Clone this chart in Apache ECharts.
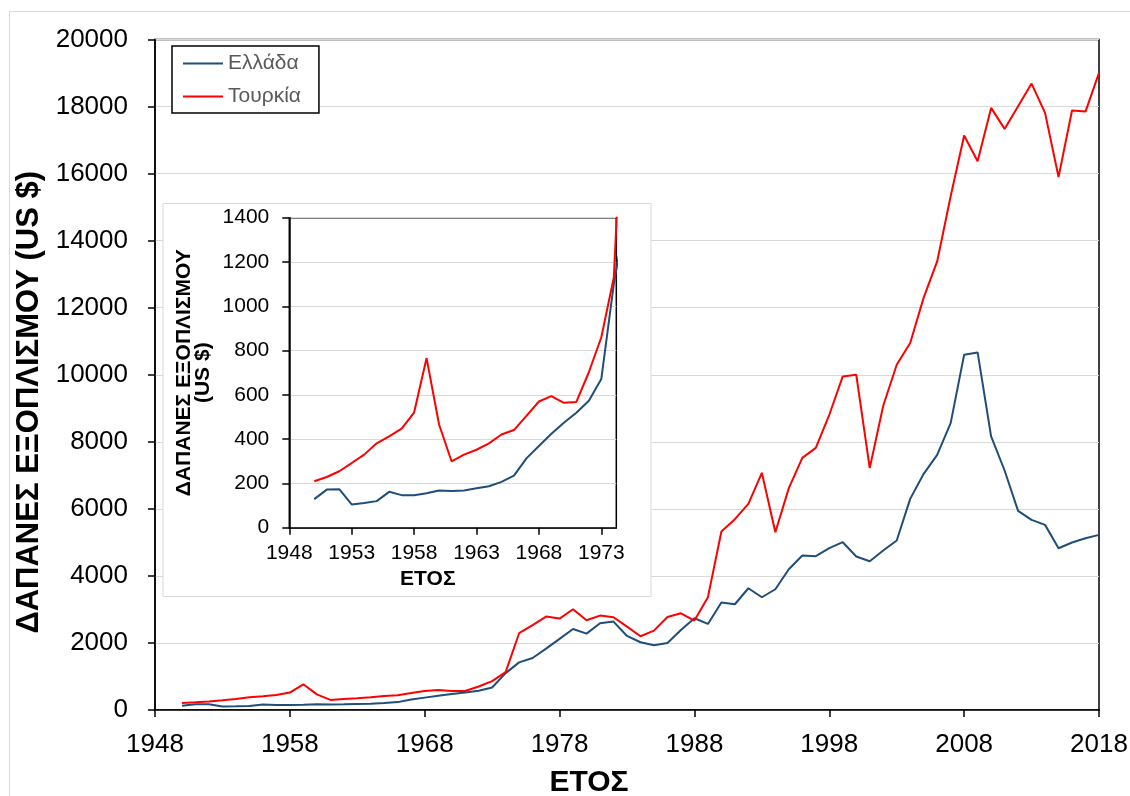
<!DOCTYPE html>
<html>
<head>
<meta charset="utf-8">
<script src="https://cdn.jsdelivr.net/npm/echarts@6/dist/echarts.min.js"></script>
<style>
html,body{margin:0;padding:0;background:#fff;}
#chart{width:1130px;height:796px;}
</style>
</head>
<body>
<div id="chart"></div>
<script>
// ---- data ----
const years = [1950,1951,1952,1953,1954,1955,1956,1957,1958,1959,
  1960,1961,1962,1963,1964,1965,1966,1967,1968,1969,
  1970,1971,1972,1973,1974,1975,1976,1977,1978,1979,
  1980,1981,1982,1983,1984,1985,1986,1987,1988,1989,
  1990,1991,1992,1993,1994,1995,1996,1997,1998,1999,
  2000,2001,2002,2003,2004,2005,2006,2007,2008,2009,
  2010,2011,2012,2013,2014,2015,2016,2017,2018];
const greece = [129,172,174,105,112,120,162,147,147,156,
  168,166,168,178,187,207,235,313,369,424,
  474,519,573,672,1100,1420,1550,1830,2120,2418,
  2278,2587,2637,2209,2020,1930,2000,2388,2736,2567,
  3204,3154,3632,3363,3602,4199,4607,4587,4826,5005,
  4577,4438,4756,5055,6298,7045,7612,8557,10597,10666,
  8159,7144,5940,5672,5522,4826,4995,5125,5224];
const turkey = [210,229,255,292,330,381,412,447,520,766,
  466,300,330,352,381,421,441,505,570,594,
  564,568,702,860,1130,2290,2530,2786,2726,3005,
  2677,2816,2766,2488,2199,2368,2776,2885,2667,3363,
  5323,5691,6149,7075,5303,6617,7520,7820,8806,9950,
  10000,7214,9074,10298,10945,12300,13380,15323,17134,16368,
  17960,17333,18010,18686,17811,15900,17880,17850,19005];
const seriesNames = ['Ελλάδα', 'Τουρκία'];
const seriesColors = ['#1F4E79', '#FF0000'];
const insetXTicks = [1948, 1953, 1958, 1963, 1968, 1973];
const yTitle = 'ΔΑΠΑΝΕΣ ΕΞΟΠΛΙΣΜΟΥ (US $)';
const yTitleInset = 'ΔΑΠΑΝΕΣ ΕΞΟΠΛΙΣΜΟΥ\n(US $)';
const xTitle = 'ΕΤΟΣ';

// ---- chart ----
const FONT = '"Liberation Sans", Arial, sans-serif';
const pairs = arr => years.map((y, i) => [y, arr[i]]);
const values = [greece, turkey];
const plain = v => String(v);

const chart = echarts.init(document.getElementById('chart'), null, {renderer: 'canvas'});

function axisCommon(fontSize, margin, z) {
  return {
    axisLine: {show: true, onZero: false, lineStyle: {color: '#000', width: 1.5}},
    axisTick: {show: true, inside: false, length: 7, lineStyle: {color: '#000', width: 1.5}},
    axisLabel: {color: '#000', fontSize: fontSize, fontFamily: FONT, margin: margin, formatter: plain},
    z: z
  };
}

const series = [];
[0, 1].forEach(g => {
  seriesNames.forEach((name, i) => {
    series.push({
      type: 'line',
      name: name,
      xAxisIndex: g,
      yAxisIndex: g,
      data: pairs(values[i]),
      symbol: 'none',
      showSymbol: false,
      clip: true,
      lineStyle: {color: seriesColors[i], width: 2},
      itemStyle: {color: seriesColors[i]},
      z: g === 0 ? 2 : 22
    });
  });
});

const option = {
  animation: false,
  backgroundColor: '#fff',
  textStyle: {fontFamily: FONT},
  graphic: [
    {type: 'rect', silent: true, z: -10,
     shape: {x: 9.5, y: 11.5, width: 1300, height: 900},
     style: {fill: 'none', stroke: '#D9D9D9', lineWidth: 1}},
    {type: 'rect', silent: true, z: 10,
     shape: {x: 163, y: 203.5, width: 488, height: 393},
     style: {fill: '#fff', stroke: '#D9D9D9', lineWidth: 1}}
  ],
  legend: {
    data: seriesNames,
    orient: 'vertical',
    left: 172, top: 46,
    icon: 'rect',
    itemWidth: 40, itemHeight: 2, itemGap: 12,
    padding: [7, 18, 6, 11],
    borderColor: '#000', borderWidth: 1.5,
    backgroundColor: '#fff',
    textStyle: {fontSize: 21, color: '#595959', fontFamily: FONT, lineHeight: 21},
    z: 30
  },
  grid: [
    {left: 155, top: 39.5, width: 944, height: 670.5, show: true, outerBoundsMode: 'none', containLabel: false,
     borderColor: '#000', borderWidth: 1.5, backgroundColor: 'transparent', z: 0},
    {left: 289.3, top: 217.7, width: 327, height: 310, show: true, outerBoundsMode: 'none', containLabel: false,
     borderColor: '#000', borderWidth: 1.5, backgroundColor: 'transparent', z: 20}
  ],
  xAxis: [
    Object.assign(axisCommon(26, 22, 1), {
      gridIndex: 0, type: 'value', min: 1948, max: 2018, interval: 10,
      splitLine: {show: false},
      name: xTitle, nameLocation: 'middle', nameGap: 58,
      nameTextStyle: {fontSize: 30, fontWeight: 'bold', color: '#000', fontFamily: FONT, padding: [0, 76, 0, 0]}
    }),
    (function () {
      const a = axisCommon(21, 15, 21);
      a.axisTick.customValues = insetXTicks;
      a.axisLabel.customValues = insetXTicks;
      return Object.assign(a, {
        gridIndex: 1, type: 'value', min: 1948, max: 1974.2, interval: 5,
        splitLine: {show: false},
        name: xTitle, nameLocation: 'middle', nameGap: 41,
        nameTextStyle: {fontSize: 21, fontWeight: 'bold', color: '#000', fontFamily: FONT, padding: [0, 50, 0, 0]}
      });
    })()
  ],
  yAxis: [
    Object.assign(axisCommon(26, 27, 1), {
      gridIndex: 0, type: 'value', min: 0, max: 20000, interval: 2000,
      splitLine: {show: true, lineStyle: {color: '#D9D9D9', width: 1}},
      name: yTitle, nameLocation: 'middle', nameGap: 104, nameRotate: 90,
      nameTextStyle: {fontSize: 31, fontWeight: 'bold', color: '#000', fontFamily: FONT, padding: [0, 55, 0, 0]}
    }),
    Object.assign(axisCommon(21, 20, 21), {
      gridIndex: 1, type: 'value', min: 0, max: 1400, interval: 200,
      splitLine: {show: true, lineStyle: {color: '#D9D9D9', width: 1}},
      name: yTitleInset, nameLocation: 'middle', nameGap: 77, nameRotate: 90,
      nameTextStyle: {fontSize: 21, fontWeight: 'bold', color: '#000', fontFamily: FONT, lineHeight: 19}
    })
  ],
  series: series
};

chart.setOption(option);
</script>
</body>
</html>
